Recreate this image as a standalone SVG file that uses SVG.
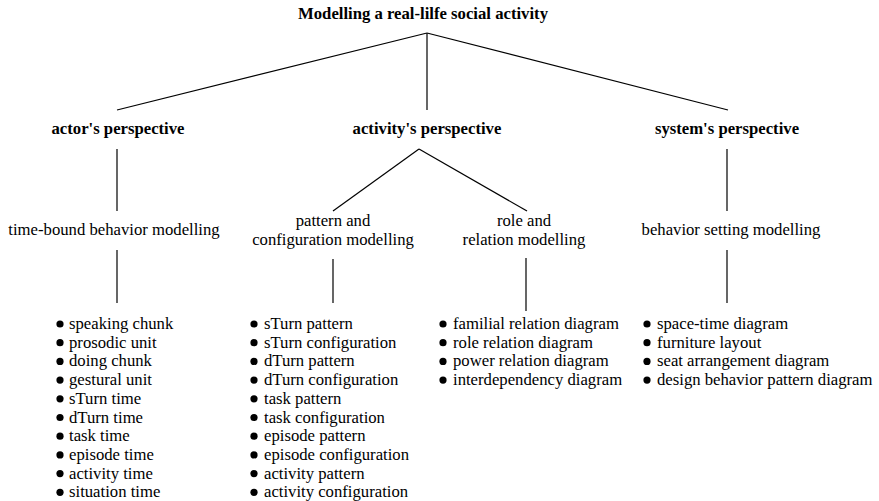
<svg xmlns="http://www.w3.org/2000/svg" width="879" height="501" viewBox="0 0 879 501">
  <style>
    text { font-family: "Liberation Serif", "Times New Roman", serif; fill: #000; }
    .h { font-size: 16.7px; font-weight: bold; text-anchor: middle; }
    .m { font-size: 16.7px; text-anchor: middle; }
    .li { font-size: 16.7px; }
    .edge { stroke: #000; stroke-width: 1.2; fill: none; }
    .dot { fill: #000; }
  </style>
  <rect width="879" height="501" fill="#fff"/>

  <g id="connectors">
    <line class="edge" x1="427" y1="33" x2="117" y2="110"/>
    <line class="edge" x1="427" y1="33" x2="427" y2="110"/>
    <line class="edge" x1="427" y1="33" x2="728" y2="110"/>
    <line class="edge" x1="117" y1="149" x2="117" y2="211"/>
    <line class="edge" x1="419" y1="149" x2="333" y2="211"/>
    <line class="edge" x1="419" y1="149" x2="527" y2="211"/>
    <line class="edge" x1="727" y1="149" x2="727" y2="211"/>
    <line class="edge" x1="117" y1="250" x2="117" y2="303"/>
    <line class="edge" x1="333" y1="259" x2="333" y2="303"/>
    <line class="edge" x1="526" y1="258" x2="526" y2="311"/>
    <line class="edge" x1="727" y1="250" x2="727" y2="303"/>
  </g>

  <g id="root">
    <text class="h" x="423" y="19">Modelling a real-lilfe social activity</text>
  </g>

  <g id="actor">
    <text class="h" x="118" y="134">actor's perspective</text>
  </g>
  <g id="activity">
    <text class="h" x="427" y="134">activity's perspective</text>
  </g>
  <g id="system">
    <text class="h" x="727" y="134">system's perspective</text>
  </g>

  <g id="time-bound">
    <text class="m" x="114" y="235">time-bound behavior modelling</text>
  </g>
  <g id="pattern">
    <text class="m" x="333" y="226">pattern and</text>
    <text class="m" x="333" y="245">configuration modelling</text>
  </g>
  <g id="role">
    <text class="m" x="524" y="226">role and</text>
    <text class="m" x="524" y="245">relation modelling</text>
  </g>
  <g id="setting">
    <text class="m" x="731" y="235">behavior setting modelling</text>
  </g>

  <g id="time-list">
    <circle class="dot" cx="60" cy="324" r="3.6"/><text class="li" x="69" y="329">speaking chunk</text>
    <circle class="dot" cx="60" cy="342.7" r="3.6"/><text class="li" x="69" y="347.7">prosodic unit</text>
    <circle class="dot" cx="60" cy="361.4" r="3.6"/><text class="li" x="69" y="366.4">doing chunk</text>
    <circle class="dot" cx="60" cy="380.1" r="3.6"/><text class="li" x="69" y="385.1">gestural unit</text>
    <circle class="dot" cx="60" cy="398.8" r="3.6"/><text class="li" x="69" y="403.8">sTurn time</text>
    <circle class="dot" cx="60" cy="417.5" r="3.6"/><text class="li" x="69" y="422.5">dTurn time</text>
    <circle class="dot" cx="60" cy="436.2" r="3.6"/><text class="li" x="69" y="441.2">task time</text>
    <circle class="dot" cx="60" cy="454.9" r="3.6"/><text class="li" x="69" y="459.9">episode time</text>
    <circle class="dot" cx="60" cy="473.6" r="3.6"/><text class="li" x="69" y="478.6">activity time</text>
    <circle class="dot" cx="60" cy="492.3" r="3.6"/><text class="li" x="69" y="497.3">situation time</text>
  </g>

  <g id="pattern-list">
    <circle class="dot" cx="254" cy="324" r="3.6"/><text class="li" x="264" y="329">sTurn pattern</text>
    <circle class="dot" cx="254" cy="342.7" r="3.6"/><text class="li" x="264" y="347.7">sTurn configuration</text>
    <circle class="dot" cx="254" cy="361.4" r="3.6"/><text class="li" x="264" y="366.4">dTurn pattern</text>
    <circle class="dot" cx="254" cy="380.1" r="3.6"/><text class="li" x="264" y="385.1">dTurn configuration</text>
    <circle class="dot" cx="254" cy="398.8" r="3.6"/><text class="li" x="264" y="403.8">task pattern</text>
    <circle class="dot" cx="254" cy="417.5" r="3.6"/><text class="li" x="264" y="422.5">task configuration</text>
    <circle class="dot" cx="254" cy="436.2" r="3.6"/><text class="li" x="264" y="441.2">episode pattern</text>
    <circle class="dot" cx="254" cy="454.9" r="3.6"/><text class="li" x="264" y="459.9">episode configuration</text>
    <circle class="dot" cx="254" cy="473.6" r="3.6"/><text class="li" x="264" y="478.6">activity pattern</text>
    <circle class="dot" cx="254" cy="492.3" r="3.6"/><text class="li" x="264" y="497.3">activity configuration</text>
  </g>

  <g id="relation-list">
    <circle class="dot" cx="443" cy="324" r="3.6"/><text class="li" x="453" y="329">familial relation diagram</text>
    <circle class="dot" cx="443" cy="342.7" r="3.6"/><text class="li" x="453" y="347.7">role relation diagram</text>
    <circle class="dot" cx="443" cy="361.4" r="3.6"/><text class="li" x="453" y="366.4">power relation diagram</text>
    <circle class="dot" cx="443" cy="380.1" r="3.6"/><text class="li" x="453" y="385.1">interdependency diagram</text>
  </g>

  <g id="setting-list">
    <circle class="dot" cx="647" cy="324" r="3.6"/><text class="li" x="657" y="329">space-time diagram</text>
    <circle class="dot" cx="647" cy="342.7" r="3.6"/><text class="li" x="657" y="347.7">furniture layout</text>
    <circle class="dot" cx="647" cy="361.4" r="3.6"/><text class="li" x="657" y="366.4">seat arrangement diagram</text>
    <circle class="dot" cx="647" cy="380.1" r="3.6"/><text class="li" x="657" y="385.1">design behavior pattern diagram</text>
  </g>
</svg>
